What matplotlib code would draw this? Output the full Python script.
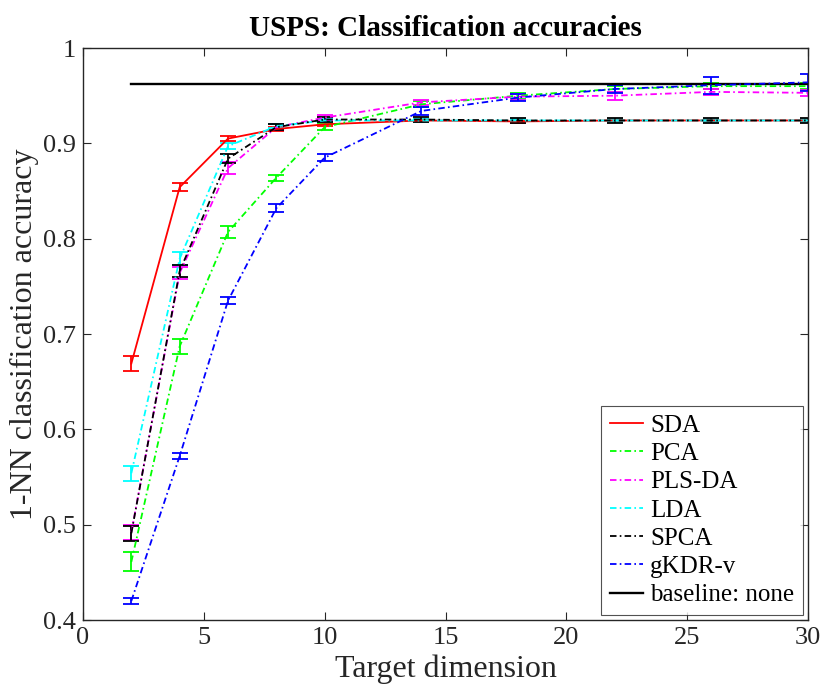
import matplotlib
matplotlib.use("Agg")
import matplotlib.pyplot as plt
from matplotlib.lines import Line2D

plt.rcParams['font.family'] = ['Liberation Serif', 'DejaVu Serif']

dims = [2, 4, 6, 8, 10, 14, 18, 22, 26, 30]

sda = [0.669, 0.854, 0.905, 0.915, 0.920, 0.924, 0.923, 0.924, 0.924, 0.924]
sda_err = [0.008, 0.004, 0.003, 0.002, 0.002, 0.002, 0.002, 0.002, 0.002, 0.002]

pca = [0.461, 0.687, 0.807, 0.864, 0.917, 0.941, 0.950, 0.957, 0.960, 0.960]
pca_err = [0.010, 0.008, 0.006, 0.003, 0.003, 0.003, 0.003, 0.003, 0.003, 0.003]

plsda = [0.492, 0.764, 0.874, 0.917, 0.927, 0.943, 0.949, 0.950, 0.954, 0.953]
plsda_err = [0.008, 0.006, 0.006, 0.003, 0.003, 0.003, 0.003, 0.004, 0.003, 0.003]

lda = [0.554, 0.779, 0.897, 0.918, 0.924, 0.924, 0.924, 0.924, 0.924, 0.924]
lda_err = [0.008, 0.007, 0.003, 0.002, 0.002, 0.002, 0.002, 0.002, 0.002, 0.002]

spca = [0.491, 0.766, 0.884, 0.917, 0.925, 0.925, 0.924, 0.924, 0.924, 0.924]
spca_err = [0.008, 0.006, 0.005, 0.003, 0.003, 0.003, 0.003, 0.003, 0.003, 0.003]

gkdr = [0.420, 0.572, 0.735, 0.832, 0.885, 0.934, 0.948, 0.957, 0.961, 0.964]
gkdr_err = [0.003, 0.003, 0.004, 0.004, 0.004, 0.004, 0.004, 0.004, 0.009, 0.009]

baseline = 0.962
baseline_x = [2, 30]

dashdot = (0, (3.6, 1.8, 0.9, 1.8))
series = [
    ("SDA", sda, sda_err, (1, 0, 0), "-"),
    ("PCA", pca, pca_err, (0, 1, 0), dashdot),
    ("PLS-DA", plsda, plsda_err, (1, 0, 1), dashdot),
    ("LDA", lda, lda_err, (0, 1, 1), dashdot),
    ("SPCA", spca, spca_err, (0, 0, 0), dashdot),
    ("gKDR-v", gkdr, gkdr_err, (0, 0, 1), dashdot),
]

fig = plt.figure(figsize=(8.21, 6.90), dpi=100)
ax = fig.add_axes([0.1011, 0.1014, 0.8831, 0.8290])

handles = []
for name, vals, err, col, ls in series:
    ax.errorbar(dims, vals, yerr=err, color=col, linestyle=ls, linewidth=1.3,
                elinewidth=1.3, capsize=5.6, capthick=1.3)
    handles.append(Line2D([], [], color=col, linestyle=ls, linewidth=1.3, label=name))

ax.plot(baseline_x, [baseline, baseline], color='k', linewidth=1.7)
handles.append(Line2D([], [], color='k', linestyle='-', linewidth=1.7, label='baseline: none'))

ax.set_xlim(0, 30)
ax.set_ylim(0.4, 1.0)
ax.set_xticks([0, 5, 10, 15, 20, 25, 30])
ax.set_yticks([0.4, 0.5, 0.6, 0.7, 0.8, 0.9, 1.0])
ax.set_yticklabels(['0.4', '0.5', '0.6', '0.7', '0.8', '0.9', '1'])

axis_col = '#262626'
for sp in ax.spines.values():
    sp.set_color(axis_col)
    sp.set_linewidth(1.0)
ax.tick_params(direction='in', length=6, width=0.8, colors=axis_col,
               top=True, right=True, labelsize=19, pad=5)

ax.set_xlabel('Target dimension', fontsize=23, color=axis_col, labelpad=4)
ax.set_ylabel('1-NN classification accuracy', fontsize=23, color=axis_col, labelpad=3)
ax.set_title('USPS: Classification accuracies', fontsize=21, fontweight='bold', pad=9)

leg = ax.legend(handles=handles, loc='lower right', fontsize=18, frameon=True,
                fancybox=False, edgecolor=axis_col, handlelength=1.3,
                handletextpad=0.3, borderpad=0.35, labelspacing=0.23,
                borderaxespad=0.2)
leg.get_frame().set_linewidth(0.8)

fig.savefig('out.png', dpi=100)
